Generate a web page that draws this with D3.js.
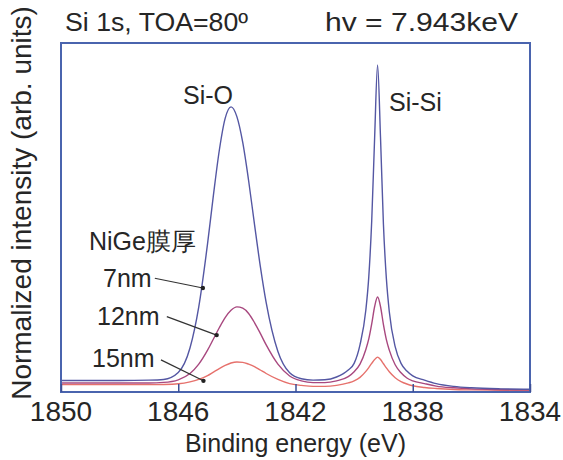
<!DOCTYPE html>
<html>
<head>
<meta charset="utf-8">
<script src="https://cdn.jsdelivr.net/npm/d3@7"></script>
<style>
  html, body { margin: 0; padding: 0; background: #fff; }
  svg text { font-family: "Liberation Sans", Arial, sans-serif; fill: #262626; }
</style>
</head>
<body>
<div id="chart"></div>
<script>
'use strict';

// binding energy grid (eV)
const energy = [1850, 1849, 1848, 1847, 1846.5, 1846, 1845.6, 1845.3, 1845, 1844.8,
  1844.6, 1844.4, 1844.2, 1844.0, 1843.8, 1843.6, 1843.4, 1843.2, 1843.0, 1842.6,
  1842.2, 1841.8, 1841.4, 1841.0, 1840.6, 1840.2, 1840.0, 1839.8, 1839.6, 1839.5,
  1839.4, 1839.3, 1839.2, 1839.1, 1839.0, 1838.9, 1838.8, 1838.6, 1838.4, 1838.2,
  1838.0, 1837.6, 1837.2, 1836.6, 1836.0, 1835.0, 1834.0];

// normalized intensity (arb. units) for each NiGe thickness
const int7nm = [3.3, 3.3, 3.3, 3.4, 3.6, 5.6, 12.6, 24.4, 42.5, 56.4,
  69.2, 78.4, 81.7, 78.9, 71.5, 60.6, 48.1, 36.0, 25.6, 11.6,
  5.5, 3.8, 3.4, 3.5, 4.3, 6.3, 8.2, 13.5, 23.5, 33.0,
  49.0, 73.0, 93.7, 73.0, 48.0, 32.5, 23.0, 13.0, 8.2, 6.0,
  4.6, 3.4, 2.4, 1.6, 1.2, 0.9, 0.8];

const int12nm = [2.6, 2.6, 2.6, 2.6, 2.75, 3.5, 5.3, 8.0, 12.0, 15.2,
  18.4, 21.3, 23.4, 24.4, 24.0, 22.5, 19.9, 16.8, 13.5, 8.0,
  4.6, 3.2, 2.7, 2.7, 3.2, 4.4, 5.8, 8.0, 12.2, 15.2,
  19.5, 24.5, 27.2, 24.5, 19.3, 15.0, 12.0, 7.8, 5.5, 4.0,
  3.2, 2.4, 1.7, 1.2, 0.9, 0.7, 0.6];

const int15nm = [2.1, 2.1, 2.1, 2.1, 2.15, 2.35, 2.9, 3.6, 4.7, 5.7,
  6.7, 7.6, 8.3, 8.6, 8.5, 8.0, 7.3, 6.3, 5.3, 3.6,
  2.4, 1.9, 1.6, 1.6, 1.9, 2.6, 3.2, 4.2, 5.9, 7.0,
  8.2, 9.3, 10.0, 9.3, 8.1, 6.9, 5.8, 4.1, 3.0, 2.3,
  1.8, 1.3, 1.0, 0.7, 0.6, 0.5, 0.4];

const xTicks = [1850, 1846, 1842, 1838, 1834];

// arrow annotations (data units)
const annoLabels = ['7nm', '12nm', '15nm'];
const arrowFromE = [1846.8, 1846.39, 1846.59];
const arrowFromV = [32.6, 21.6, 9.2];
const arrowToE = [1845.16, 1844.69, 1845.14];
const arrowToV = [29.8, 16.3, 3.2];

const W = 563, H = 460;
const margin = {top: 43, right: 33, bottom: 68, left: 61};

const svg = d3.select('#chart').append('svg')
  .attr('width', W)
  .attr('height', H);

const x = d3.scaleLinear().domain([1850, 1834]).range([margin.left, W - margin.right]);
const y = d3.scaleLinear().domain([0, 100]).range([H - margin.bottom, margin.top]);

const series = [
  {name: '7nm', values: int7nm, color: '#5457a3'},
  {name: '12nm', values: int12nm, color: '#a8487f'},
  {name: '15nm', values: int15nm, color: '#e6716c'}
];

svg.append('clipPath').attr('id', 'plotclip')
  .append('rect')
  .attr('x', x(1850)).attr('y', y(100))
  .attr('width', x(1834) - x(1850)).attr('height', y(0) - y(100));

const line = d3.line()
  .x(d => x(d[0]))
  .y(d => y(d[1]))
  .curve(d3.curveMonotoneX);

svg.append('g').attr('clip-path', 'url(#plotclip)')
  .selectAll('path.spec')
  .data(series.slice().reverse())
  .enter().append('path')
  .classed('spec', true)
  .attr('d', s => line(energy.map((e, i) => [e, s.values[i]])))
  .attr('fill', 'none')
  .attr('stroke', s => s.color)
  .attr('stroke-width', 1.4);

// frame
svg.append('rect')
  .attr('x', x(1850)).attr('y', y(100))
  .attr('width', x(1834) - x(1850)).attr('height', y(0) - y(100))
  .attr('fill', 'none')
  .attr('stroke', '#4a64ae')
  .attr('stroke-width', 2);

// x axis, ticks pointing inward
const xAxis = d3.axisTop(x).tickValues(xTicks).tickSize(8).tickFormat('');
const xAxisG = svg.append('g')
  .attr('transform', `translate(0,${y(0)})`)
  .call(xAxis);
xAxisG.select('.domain').remove();
xAxisG.selectAll('.tick line').attr('stroke', '#3d4f96').attr('stroke-width', 1.5);

svg.append('g').selectAll('text.xt')
  .data(xTicks)
  .enter().append('text')
  .classed('xt', true)
  .attr('x', d => x(d))
  .attr('y', 421)
  .attr('text-anchor', 'middle')
  .attr('font-size', 28)
  .text(d => d);

svg.append('text')
  .attr('x', (x(1850) + x(1834)) / 2)
  .attr('y', 452)
  .attr('text-anchor', 'middle')
  .attr('font-size', 25)
  .text('Binding energy (eV)');

svg.append('text')
  .attr('transform', 'translate(31,203) rotate(-90)')
  .attr('text-anchor', 'middle')
  .attr('font-size', 28)
  .text('Normalized intensity (arb. units)');

// titles
svg.append('text').attr('x', 65).attr('y', 31).attr('font-size', 26)
  .attr('textLength', 183).attr('lengthAdjust', 'spacingAndGlyphs')
  .text('Si 1s, TOA=80º');
svg.append('text').attr('x', 325).attr('y', 31).attr('font-size', 26)
  .attr('textLength', 193).attr('lengthAdjust', 'spacingAndGlyphs')
  .text('hv = 7.943keV');

// peak labels
svg.append('text').attr('x', 183).attr('y', 104).attr('font-size', 25).text('Si-O');
svg.append('text').attr('x', 389).attr('y', 111).attr('font-size', 25).text('Si-Si');

// thickness annotations
svg.append('text').attr('x', 89).attr('y', 250).attr('font-size', 25).text('NiGe膜厚');
const labelPos = [[103, 287], [97, 325], [92, 367]];
svg.append('g').selectAll('text.anno')
  .data(annoLabels)
  .enter().append('text')
  .classed('anno', true)
  .attr('x', (d, i) => labelPos[i][0])
  .attr('y', (d, i) => labelPos[i][1])
  .attr('font-size', 25)
  .text(d => d);

const arrows = svg.append('g');
annoLabels.forEach((d, i) => {
  arrows.append('line')
    .attr('x1', x(arrowFromE[i])).attr('y1', y(arrowFromV[i]))
    .attr('x2', x(arrowToE[i])).attr('y2', y(arrowToV[i]))
    .attr('stroke', '#333')
    .attr('stroke-width', 1.2);
  arrows.append('circle')
    .attr('cx', x(arrowToE[i])).attr('cy', y(arrowToV[i]))
    .attr('r', 2.2)
    .attr('fill', '#222');
});
</script>
</body>
</html>
